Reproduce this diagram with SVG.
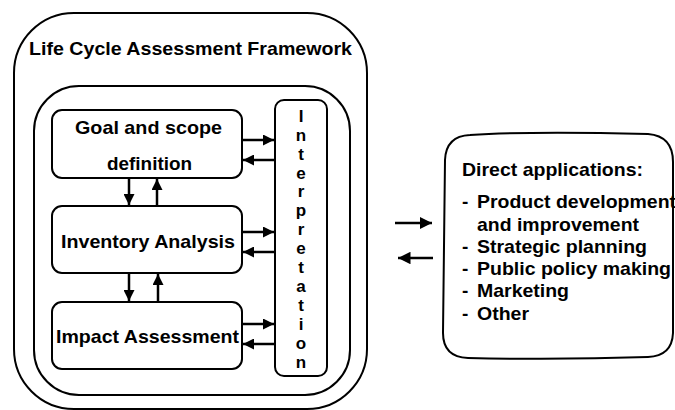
<svg xmlns="http://www.w3.org/2000/svg" width="675" height="410" viewBox="0 0 675 410">
<defs>
<style>
.box{fill:#fff;stroke:#000;stroke-width:2}
.t{font-family:"Liberation Sans",Arial,sans-serif;font-weight:bold;font-size:19px;fill:#000}
.v{font-family:"Liberation Sans",Arial,sans-serif;font-weight:bold;font-size:17px;fill:#000;text-anchor:middle}
.c{stroke:#000;stroke-width:2.5;fill:none}
</style>
<marker id="ah" viewBox="0 0 10 10" refX="10" refY="5" markerWidth="4.4" markerHeight="4.4" orient="auto" markerUnits="strokeWidth">
<path d="M0,0 L10,5 L0,10 z" fill="#000"/>
</marker>
<marker id="ah2" viewBox="0 0 10 10" refX="10" refY="5" markerWidth="5" markerHeight="5" orient="auto" markerUnits="strokeWidth">
<path d="M0,0 L10,5 L0,10 z" fill="#000"/>
</marker>
</defs>
<rect width="675" height="410" fill="#fff"/>
<g id="framework">
<rect class="box" x="14" y="13" width="353" height="396" rx="60" ry="60"/>
<text class="t" x="29" y="55" textLength="323" lengthAdjust="spacingAndGlyphs">Life Cycle Assessment Framework</text>
</g>
<g id="inner">
<rect class="box" x="34" y="86" width="316" height="309" rx="45" ry="45"/>
</g>
<g id="goal">
<rect class="box" x="52" y="110" width="190" height="68" rx="10" ry="10"/>
<text class="t" x="75" y="134" textLength="147" lengthAdjust="spacingAndGlyphs">Goal and scope</text>
<text class="t" x="107" y="170" textLength="85" lengthAdjust="spacingAndGlyphs">definition</text>
</g>
<g id="inventory">
<rect class="box" x="52" y="206" width="190" height="67" rx="10" ry="10"/>
<text class="t" x="61" y="248" textLength="174" lengthAdjust="spacingAndGlyphs">Inventory Analysis</text>
</g>
<g id="impact">
<rect class="box" x="52" y="302" width="190" height="67" rx="10" ry="10"/>
<text class="t" x="56" y="343" textLength="183" lengthAdjust="spacingAndGlyphs">Impact Assessment</text>
</g>
<g id="interpretation">
<rect class="box" x="275" y="100" width="52" height="276" rx="9" ry="9"/>
<text class="v" x="301" y="122">I</text>
<text class="v" x="301" y="141">n</text>
<text class="v" x="301" y="160">t</text>
<text class="v" x="301" y="179">e</text>
<text class="v" x="301" y="197">r</text>
<text class="v" x="301" y="216">p</text>
<text class="v" x="301" y="235">r</text>
<text class="v" x="301" y="254">e</text>
<text class="v" x="301" y="273">t</text>
<text class="v" x="301" y="292">a</text>
<text class="v" x="301" y="311">t</text>
<text class="v" x="301" y="330">i</text>
<text class="v" x="301" y="349">o</text>
<text class="v" x="301" y="368">n</text>
</g>
<g id="applications">
<path class="box" d="M470,135 Q530,131 648,134 Q673,136 673,162 L673,333 Q672,356 648,357 Q560,360 468,358 Q443,357 443,333 L445,160 Q446,136 470,135 Z" stroke-width="2.5"/>
<text class="t" x="462" y="176" textLength="181" lengthAdjust="spacingAndGlyphs">Direct applications:</text>
<text class="t" x="462" y="208">-</text>
<text class="t" x="477" y="208" textLength="199" lengthAdjust="spacingAndGlyphs">Product development</text>
<text class="t" x="477" y="231" textLength="162" lengthAdjust="spacingAndGlyphs">and improvement</text>
<text class="t" x="462" y="253">-</text>
<text class="t" x="477" y="253" textLength="170" lengthAdjust="spacingAndGlyphs">Strategic planning</text>
<text class="t" x="462" y="275">-</text>
<text class="t" x="477" y="275" textLength="194" lengthAdjust="spacingAndGlyphs">Public policy making</text>
<text class="t" x="462" y="297">-</text>
<text class="t" x="477" y="297" textLength="92" lengthAdjust="spacingAndGlyphs">Marketing</text>
<text class="t" x="462" y="320">-</text>
<text class="t" x="477" y="320" textLength="52" lengthAdjust="spacingAndGlyphs">Other</text>
</g>
<g id="connectors">
<line class="c" x1="243" y1="140" x2="274" y2="140" marker-end="url(#ah)"/>
<line class="c" x1="274" y1="160" x2="243" y2="160" marker-end="url(#ah)"/>
<line class="c" x1="129" y1="179" x2="129" y2="205" marker-end="url(#ah)"/>
<line class="c" x1="157" y1="205" x2="157" y2="179" marker-end="url(#ah)"/>
<line class="c" x1="243" y1="232" x2="274" y2="232" marker-end="url(#ah)"/>
<line class="c" x1="274" y1="252" x2="243" y2="252" marker-end="url(#ah)"/>
<line class="c" x1="129" y1="274" x2="129" y2="301" marker-end="url(#ah)"/>
<line class="c" x1="158" y1="301" x2="158" y2="274" marker-end="url(#ah)"/>
<line class="c" x1="243" y1="324" x2="274" y2="324" marker-end="url(#ah)"/>
<line class="c" x1="274" y1="344" x2="243" y2="344" marker-end="url(#ah)"/>
<line class="c" x1="395" y1="223" x2="432" y2="223" marker-end="url(#ah2)"/>
<line class="c" x1="433" y1="258" x2="398" y2="258" marker-end="url(#ah2)"/>
</g>
</svg>
